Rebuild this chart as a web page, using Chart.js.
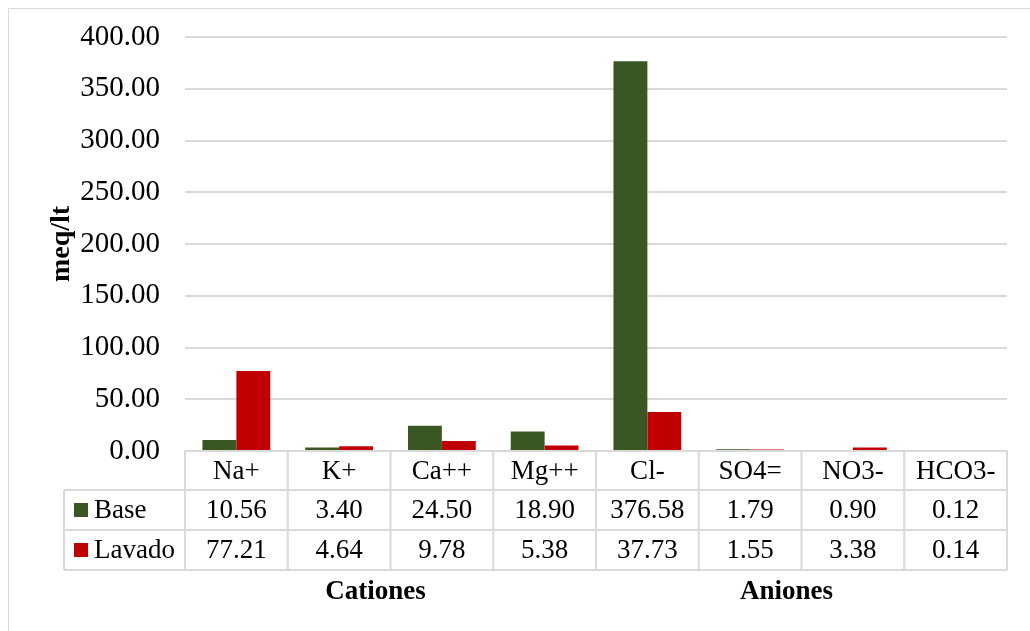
<!DOCTYPE html>
<html>
<head>
<meta charset="utf-8">
<script src="https://cdn.jsdelivr.net/npm/chart.js@4/dist/chart.umd.min.js"></script>
<style>
  html, body { margin: 0; padding: 0; background: #fff; }
  canvas { display: block; }
</style>
</head>
<body>
<canvas id="c" width="1030" height="631"></canvas>
<script>
// Ion concentrations (meq/lt) before and after washing
const ions = ['Na+', 'K+', 'Ca++', 'Mg++', 'Cl-', 'SO4=', 'NO3-', 'HCO3-'];
const baseValues = [10.56, 3.40, 24.50, 18.90, 376.58, 1.79, 0.90, 0.12];
const lavadoValues = [77.21, 4.64, 9.78, 5.38, 37.73, 1.55, 3.38, 0.14];
const seriesNames = ['Base', 'Lavado'];
const groupNames = ['Cationes', 'Aniones'];
const groupSpans = [[0, 3], [4, 7]];
const yTicks = [0, 50, 100, 150, 200, 250, 300, 350, 400];

const GREEN = '#3a5723';
const RED = '#c00000';
const LINE = '#d9d9d9';
const FONT = '"Liberation Serif", "Times New Roman", serif';
const FS = 27;

// Data table under the plot, with series keys and the group captions
const dataTable = {
  id: 'dataTable',
  afterDraw(chart) {
    const ctx = chart.ctx;
    const x = chart.scales.x;
    const area = chart.chartArea;
    const step = (area.right - area.left) / ions.length;
    const top = area.bottom;
    const rowH = [39, 40, 40];
    const r1 = top + rowH[0];
    const r2 = r1 + rowH[1];
    const r3 = r2 + rowH[2];
    const keyLeft = 64;

    ctx.save();
    // outer frame
    ctx.strokeStyle = LINE;
    ctx.lineWidth = 1;
    ctx.strokeRect(8.5, 8.5, 1040, 640);

    ctx.strokeStyle = LINE;
    ctx.lineWidth = 2;
    ctx.beginPath();
    ctx.moveTo(area.left, top); ctx.lineTo(area.right, top);
    ctx.moveTo(keyLeft, r1); ctx.lineTo(area.right, r1);
    ctx.moveTo(keyLeft, r2); ctx.lineTo(area.right, r2);
    ctx.moveTo(keyLeft, r3); ctx.lineTo(area.right, r3);
    ctx.moveTo(keyLeft, r1); ctx.lineTo(keyLeft, r3);
    for (let i = 0; i <= ions.length; i++) {
      const px = area.left + i * step;
      ctx.moveTo(px, top); ctx.lineTo(px, r3);
    }
    ctx.stroke();

    ctx.fillStyle = '#000';
    ctx.font = FS + 'px ' + FONT;
    ctx.textAlign = 'center';
    ctx.textBaseline = 'middle';
    const rows = [baseValues, lavadoValues];
    ions.forEach((name, i) => {
      const cx = x.getPixelForValue(i);
      ctx.fillText(name, cx, (top + r1) / 2 + 1);
      ctx.fillText(rows[0][i].toFixed(2), cx, (r1 + r2) / 2 + 1);
      ctx.fillText(rows[1][i].toFixed(2), cx, (r2 + r3) / 2 + 1);
    });

    // series keys
    const colors = [GREEN, RED];
    const mids = [(r1 + r2) / 2, (r2 + r3) / 2];
    seriesNames.forEach((s, k) => {
      ctx.fillStyle = colors[k];
      ctx.fillRect(keyLeft + 10, mids[k] - 7, 14, 14);
      ctx.fillStyle = '#000';
      ctx.textAlign = 'left';
      ctx.fillText(s, keyLeft + 30, mids[k] + 1);
    });

    // group captions
    ctx.font = 'bold ' + FS + 'px ' + FONT;
    ctx.textAlign = 'center';
    groupNames.forEach((g, k) => {
      const a = x.getPixelForValue(groupSpans[k][0]) - step / 2;
      const b = x.getPixelForValue(groupSpans[k][1]) + step / 2;
      ctx.fillText(g, (a + b) / 2 - 15, 592);
    });
    ctx.restore();
  }
};

new Chart(document.getElementById('c'), {
  type: 'bar',
  data: {
    labels: ions,
    datasets: [
      { label: seriesNames[0], data: baseValues, backgroundColor: GREEN, borderWidth: 0 },
      { label: seriesNames[1], data: lavadoValues, backgroundColor: RED, borderWidth: 0 }
    ]
  },
  options: {
    responsive: false,
    animation: false,
    devicePixelRatio: 1,
    layout: { padding: { top: 37, right: 23, left: 0, bottom: 0 } },
    datasets: { bar: { categoryPercentage: 0.66, barPercentage: 1.0 } },
    plugins: { legend: { display: false }, tooltip: { enabled: false } },
    scales: {
      x: {
        grid: { display: false },
        border: { display: false },
        ticks: { display: false },
        afterFit(scale) { scale.height = 180; }
      },
      y: {
        min: 0,
        max: 400,
        afterBuildTicks(scale) { scale.ticks = yTicks.map(v => ({ value: v })); },
        grid: { color: LINE, lineWidth: 2, drawTicks: false },
        border: { display: false },
        ticks: {
          color: '#000',
          padding: 25,
          font: { family: FONT, size: 29 },
          callback: v => Number(v).toFixed(2)
        },
        title: {
          display: true,
          text: 'meq/lt',
          color: '#000',
          font: { family: FONT, size: 28, weight: 'bold' },
          padding: { top: 45, bottom: 0 }
        },
        afterFit(scale) {
          scale.width = 185;
          scale.paddingTop = 0;
          scale.paddingBottom = 0;
        }
      }
    }
  },
  plugins: [dataTable]
});
</script>
</body>
</html>
